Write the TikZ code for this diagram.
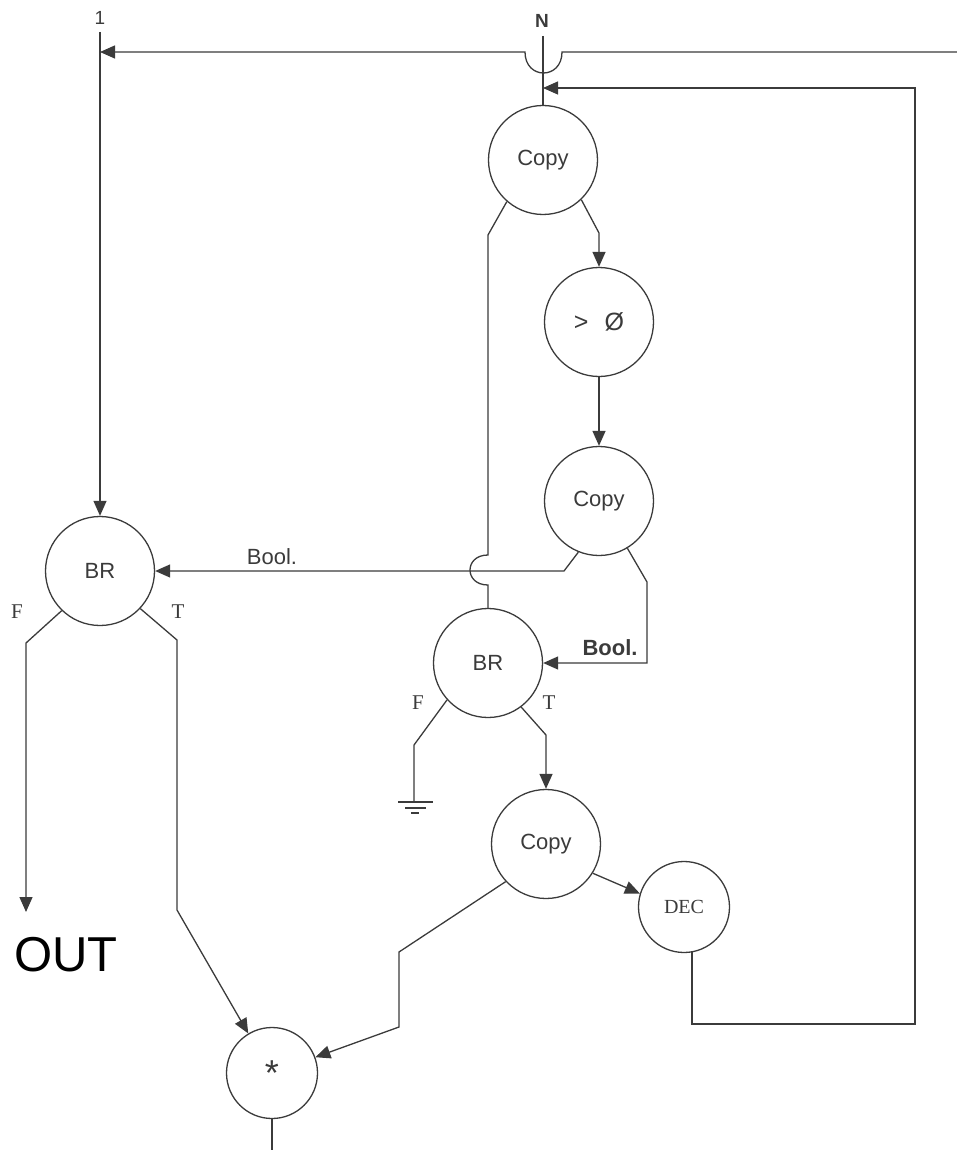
\documentclass[tikz,border=0pt]{standalone}
\usepackage{fontspec}
\setmainfont{Liberation Serif}
\setsansfont{Liberation Sans}
\usetikzlibrary{arrows.meta}

\begin{document}
\begin{tikzpicture}[x=1pt,y=-1pt,>={Triangle[length=15pt,width=13pt]},
  line width=1.3pt,color=black!77,
  op/.style={draw,circle,inner sep=0pt,minimum size=109pt,font=\sffamily\fontsize{22}{26}\selectfont},
  smallop/.style={op,minimum size=91pt},
  flag/.style={font=\rmfamily\fontsize{21}{25}\selectfont},
  toklabel/.style={font=\sffamily\fontsize{22}{26}\selectfont}]
\useasboundingbox (0,0) rectangle (957,1150);
\node[op] (copyA) at (543,160) {Copy};
\node[op,font=\sffamily\fontsize{25}{30}\selectfont] (gtz) at (599,322) {>\hspace{16pt}Ø};
\node[op] (copyB) at (599,501) {Copy};
\node[op] (brA) at (100,571) {BR};
\node[op] (brB) at (488,663) {BR};
\node[op] (copyC) at (546,844) {Copy};
\node[smallop,font=\rmfamily\fontsize{20}{24}\selectfont] (dec) at (684,907) {DEC};
\node[smallop,font=\sffamily\fontsize{36}{40}\selectfont] (mul) at (272,1073) {*};
\node[font=\sffamily\fontsize{19}{22}\selectfont] (one) at (100,18) {1};
\node[font=\sffamily\bfseries\fontsize{19}{22}\selectfont] (nin) at (542,21) {N};
\node[toklabel] (boolA) at (272,557) {Bool.};
\node[toklabel,font=\sffamily\bfseries\fontsize{22}{26}\selectfont] (boolB) at (610,648) {Bool.};
\node[flag] (fA) at (17,612) {F};
\node[flag] (tA) at (178,612) {T};
\node[flag] (fB) at (418,703) {F};
\node[flag] (tB) at (549,703) {T};
\node[black,font=\sffamily\fontsize{49}{54}\selectfont] (out) at (66,955) {OUT};
\coordinate (oneTop) at (100,32);
\coordinate (nTop) at (543,36);
\coordinate (rightIn) at (957,52);
\coordinate (outTip) at (26,912);
\coordinate (gnd) at (414,802);
\coordinate (mulOut) at (272,1150);

\draw[->] (oneTop) -- (brA.north);
\draw[->] (rightIn) -- (562,52) .. controls (562,80) and (525,80) .. (525,52)
  -- (brA.north |- 0,52);
\draw (nTop) -- (copyA.north);
\draw[->] (dec.-80) -- (dec.-80 |- 0,1024) -- (915,1024) -- (915,88)
  -- (copyA.north |- 0,88);
\draw[->] (copyA.-46) -- (gtz.north |- 0,233) -- (gtz.north);
\draw[->] (gtz) -- (copyB);
\draw (copyA.-131) -- (488,235) -- (488,555) .. controls (464,555) and (464,585) .. (488,585)
  -- (brB.north);
\draw[->] (copyB.-112) -- (564,571) -- (brA.east);
\draw[->] (copyB.-59) -- (647,582) -- (647,663) -- (brB.east);
\draw[->] (brA.-134) -- (26,643) -- (outTip);
\draw[->] (brA.-43) -- (177,640) -- (177,910) -- (mul.121);
\draw (brB.-138) -- (414,745) -- (gnd);
\draw (gnd) ++(-16,0) -- ++(35,0);
\draw (gnd) ++(-9,6) -- ++(21,0);
\draw[line width=2pt] (gnd) ++(-3,11) -- ++(8,0);
\draw[->] (brB.-53) -- (546,735) -- (copyC.north);
\draw[->] (copyC.-32) -- (dec.163);
\draw[->] (copyC.-137) -- (399,952) -- (399,1027) -- (mul.20);
\draw (mul.south) -- (mulOut);
\end{tikzpicture}
\end{document}
